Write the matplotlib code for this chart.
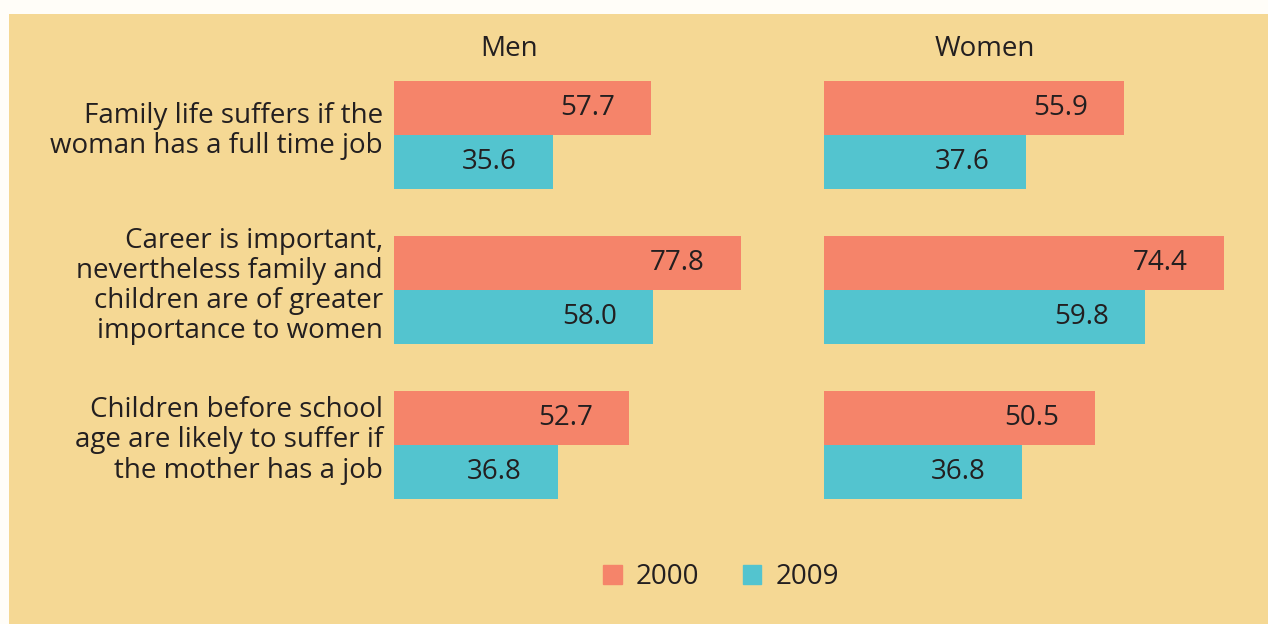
import matplotlib
matplotlib.use("Agg")
import matplotlib.pyplot as plt
from matplotlib.patches import Rectangle, Patch

# data
statements = [
    "Family life suffers if the\nwoman has a full time job",
    "Career is important,\nnevertheless family and\nchildren are of greater\nimportance to women",
    "Children before school\nage are likely to suffer if\nthe mother has a job",
]
years = ["2000", "2009"]
men_2000 = [57.7, 77.8, 52.7]
men_2009 = [35.6, 58.0, 36.8]
women_2000 = [55.9, 74.4, 50.5]
women_2009 = [37.6, 59.8, 36.8]

BG = "#F5D894"
ORANGE = "#F5846A"
CYAN = "#53C4CF"
TXT = "#231F20"
FONT = "Open Sans"
FS = 20

plt.rcParams["font.family"] = [FONT, "DejaVu Sans"]

W, H = 1268, 624
fig = plt.figure(figsize=(W / 100, H / 100), dpi=100, facecolor="#FFFDF8")
fig.patches.append(Rectangle((9 / W, 0), 1 - 9 / W, 1 - 14 / H,
                             transform=fig.transFigure, facecolor=BG,
                             edgecolor="none", zorder=-10))

bottom = 1 - 522 / H
height = 464 / H
ax_m = fig.add_axes([394 / W, bottom, 385 / W, height])
ax_w = fig.add_axes([824 / W, bottom, 406 / W, height])

bar_h = 0.35
ypos = list(range(len(statements)))


def draw_panel(ax, v2000, v2009, xmax):
    ax.set_xlim(0, xmax)
    ax.set_ylim(2.5, -0.5)
    ax.axis("off")
    b1 = ax.barh([y - bar_h / 2 for y in ypos], v2000, height=bar_h,
                 color=ORANGE, label=years[0])
    b2 = ax.barh([y + bar_h / 2 for y in ypos], v2009, height=bar_h,
                 color=CYAN, label=years[1])
    for bars, vals in ((b1, v2000), (b2, v2009)):
        for bar, v in zip(bars, vals):
            ax.annotate(f"{v:.1f}", xy=(v, bar.get_y() + bar.get_height() / 2),
                        xytext=(-26, 0), textcoords="offset points",
                        ha="right", va="center", fontsize=FS, color=TXT)
    return b1, b2


draw_panel(ax_m, men_2000, men_2009, 385 / 4.46)
draw_panel(ax_w, women_2000, women_2009, 406 / 5.375)

fig.text(509 / W, 1 - 49 / H, "Men", ha="center", va="center",
         fontsize=FS, color=TXT)
fig.text(985 / W, 1 - 49 / H, "Women", ha="center", va="center",
         fontsize=FS, color=TXT)

for y, label in zip(ypos, statements):
    ax_m.annotate(label, xy=(0, y), xycoords=("axes fraction", "data"),
                  xytext=(-8, 3), textcoords="offset points",
                  ha="right", va="center", multialignment="right",
                  fontsize=FS, color=TXT, linespacing=1.1)

fig.legend(handles=[Patch(color=ORANGE), Patch(color=CYAN)], labels=years,
           loc="center", bbox_to_anchor=(721 / W, 1 - 577 / H), ncol=2,
           frameon=False, fontsize=FS, handlelength=0.68, handleheight=0.68,
           handletextpad=0.5, columnspacing=1.55, borderpad=0,
           labelcolor=TXT)

fig.savefig("out.png", dpi=100, facecolor=fig.get_facecolor())
